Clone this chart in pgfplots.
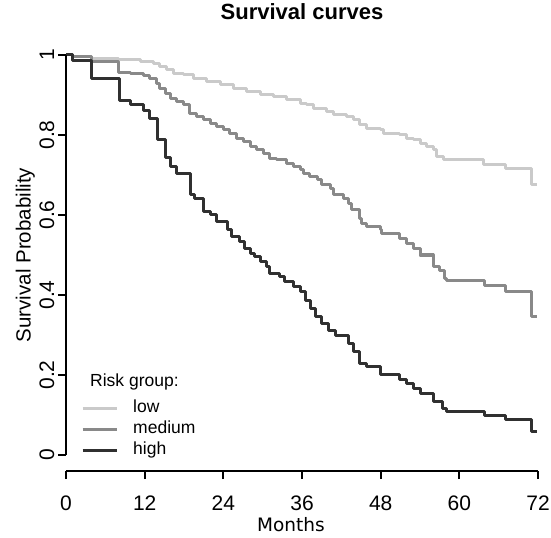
\documentclass[border=0pt]{standalone}
\usepackage{fontspec}
\setmainfont{Liberation Sans}
\newfontfamily\dejavu{DejaVu Sans}
\usepackage{pgfplots}
\pgfplotsset{compat=1.18}
\definecolor{cLow}{HTML}{CACACA}
\definecolor{cMed}{HTML}{898989}
\definecolor{cHigh}{HTML}{303030}
\begin{document}
\begin{tikzpicture}
\begin{axis}[
  scale only axis, width=472pt, height=432pt,
  xmin=0, xmax=72, ymin=-0.04, ymax=1.04,
  clip=false,
  axis x line*=bottom, axis y line*=left,
  y axis line style={draw=none},
  x axis line style={line width=2pt, -},
  every tick/.style={black, line width=2pt},
  tick align=outside, major tick length=8pt,
  xtick={0,12,24,36,48,60,72}, xticklabels={0,12,24,36,48,60,72},
  ytick={0,0.2,0.4,0.6,0.8,1}, yticklabels={0,0.2,0.4,0.6,0.8,1},
  tick label style={font=\fontsize{21}{25}\selectfont, inner sep=0pt},
  x tick label style={anchor=base, yshift=-31.3pt},
  y tick label style={xshift=-4pt, rotate=90, anchor=base},
  legend style={draw=none, fill=none, inner sep=0pt, at={(axis cs:2.29,0.139)}, anchor=north west,
    font=\fontsize{17.5}{21}\selectfont, row sep=4pt,
    nodes={inner sep=0pt, text height=13pt, text depth=4pt},
    /tikz/every odd column/.append style={column sep=15pt}},
  legend cell align=left,
  legend image code/.code={\draw[#1] (0pt,0pt) -- (34pt,0pt);},
]
\addplot[const plot, color=cLow, line width=3pt, line join=round] coordinates {
(0,1) (1.0,0.996) (3.9,0.99) (8.0,0.9875) (11.3,0.983) (13.3,0.979) (14.3,0.971) (15.4,0.9625) (16.4,0.954) (17.9,0.95) (19.4,0.942) (21.5,0.933) (23.5,0.925) (25.5,0.917) (27.6,0.908) (29.6,0.9) (31.6,0.896) (33.7,0.889) (35.7,0.879) (36.7,0.875) (37.7,0.867) (39.8,0.858) (40.8,0.85) (42.8,0.846) (43.8,0.8375) (44.8,0.825) (45.9,0.817) (47.9,0.8125) (48.4,0.804) (50.9,0.8) (52.0,0.792) (53.0,0.7875) (54.0,0.779) (55.0,0.771) (56.0,0.7625) (56.5,0.746) (57.6,0.7375) (63.7,0.725) (67.0,0.717) (71.0,0.675) (71.8,0.675)
};
\addlegendentry{low}
\addplot[const plot, color=cMed, line width=3pt, line join=round] coordinates {
(0,1) (1.0,0.996) (3.9,0.983) (8.0,0.957) (9.8,0.954) (11.8,0.9475) (12.8,0.942) (13.8,0.929) (14.3,0.917) (15.1,0.904) (15.9,0.892) (16.9,0.883) (17.9,0.875) (18.9,0.854) (19.9,0.846) (20.9,0.8375) (22.0,0.829) (23.0,0.821) (24.0,0.8125) (25.0,0.804) (26.0,0.792) (27.0,0.783) (28.1,0.771) (29.1,0.7625) (30.1,0.754) (31.1,0.742) (32.1,0.738) (33.7,0.729) (34.7,0.721) (35.7,0.713) (36.2,0.704) (37.2,0.696) (38.3,0.6875) (39.0,0.675) (40.3,0.667) (40.8,0.65) (42.3,0.642) (43.1,0.629) (43.6,0.6125) (44.8,0.592) (45.1,0.579) (45.9,0.571) (47.9,0.5625) (48.2,0.554) (50.8,0.542) (52.0,0.529) (53.0,0.517) (54.0,0.5) (56.0,0.471) (57.0,0.4625) (57.8,0.442) (58.1,0.4375) (63.9,0.425) (67.0,0.408) (71.0,0.346) (71.8,0.346)
};
\addlegendentry{medium}
\addplot[const plot, color=cHigh, line width=3pt, line join=round] coordinates {
(0,1) (1.0,0.986) (3.9,0.94) (8.1,0.885) (9.8,0.875) (11.8,0.862) (12.8,0.842) (13.9,0.789) (15.1,0.744) (15.9,0.722) (16.9,0.704) (19.0,0.65) (19.6,0.64) (20.9,0.608) (22.0,0.6) (23.0,0.583) (24.6,0.5625) (25.3,0.546) (26.5,0.533) (27.3,0.517) (28.1,0.504) (28.8,0.496) (29.6,0.483) (30.6,0.471) (31.1,0.454) (32.6,0.446) (33.4,0.433) (34.7,0.421) (35.7,0.408) (36.6,0.3875) (37.3,0.367) (38.0,0.346) (39.0,0.33) (40.0,0.3125) (41.1,0.30) (43.1,0.279) (43.8,0.258) (44.8,0.229) (45.9,0.221) (47.9,0.2025) (50.9,0.19) (52.0,0.179) (53.0,0.167) (54.0,0.154) (56.0,0.133) (57.5,0.117) (58.0,0.108) (63.9,0.1) (67.0,0.089) (71.0,0.058) (71.8,0.058)
};
\addlegendentry{high}
\draw[black, line width=2pt] (axis cs:0,0) -- (axis cs:0,1);
\node[anchor=base west, inner sep=0pt, font=\fontsize{17.5}{21}\selectfont] at (axis cs:3.66,0.171) {Risk group:};
\node[anchor=base, inner sep=0pt, font=\bfseries\fontsize{22}{26}\selectfont] at (axis cs:36,1.089) {Survival curves};
\node[anchor=base, inner sep=0pt, font=\dejavu\fontsize{18.5}{22}\selectfont] at (axis cs:34.3,-0.192) {Months};
\node[anchor=base, rotate=90, inner sep=0pt, font=\fontsize{20.5}{24}\selectfont] at (axis cs:-5.4,0.5) {Survival Probability};
\path (axis cs:-10.07,-0.205) rectangle (axis cs:73.98,1.1375);
\end{axis}
\end{tikzpicture}
\end{document}
